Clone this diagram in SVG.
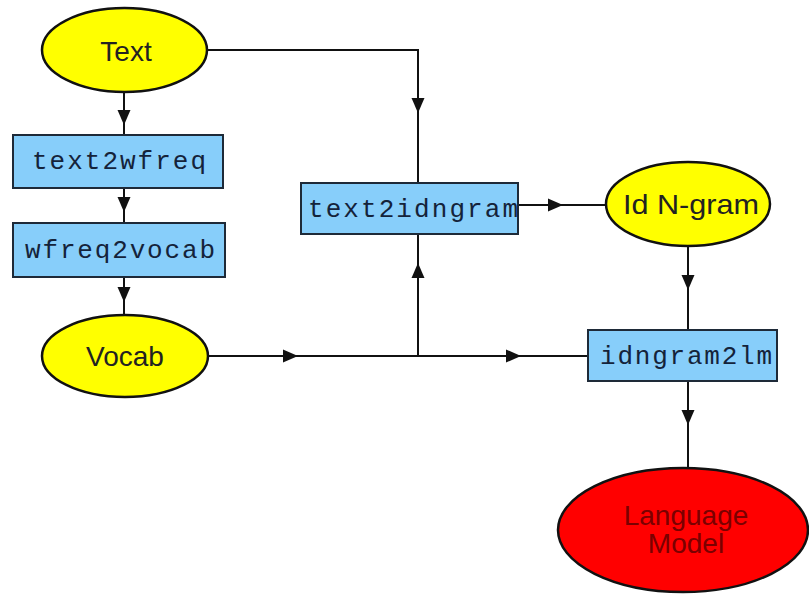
<svg xmlns="http://www.w3.org/2000/svg" width="809" height="595" viewBox="0 0 809 595">
<style>
.ell{fill:#ffff00;stroke:#111;stroke-width:2.5}
.red{fill:#ff0000;stroke:#111;stroke-width:2.5}
.box{fill:#87cefa;stroke:#1e2a38;stroke-width:2}
.lbl{font-family:"Liberation Sans",Arial,sans-serif;font-size:28px;fill:#222;text-anchor:middle}
.lm{fill:#7a0000}
.mono{font-family:"Liberation Mono","Courier New",monospace;font-size:26px;fill:#14233a;text-anchor:middle}
.con{fill:none;stroke:#111;stroke-width:2}
.ah{fill:#111}
</style>
<defs>
<polygon id="ah" class="ah" points="0,0 -15,-6.5 -15,6.5"/>
</defs>
<rect width="809" height="595" fill="#fff"/>
<g id="connectors">
<path class="con" d="M124,92 V135"/>
<use href="#ah" transform="translate(124,125) rotate(90)"/>
<path class="con" d="M124,188 V223"/>
<use href="#ah" transform="translate(124,212) rotate(90)"/>
<path class="con" d="M124,277 V315"/>
<use href="#ah" transform="translate(124,302) rotate(90)"/>
<path class="con" d="M207,50 H418 V183"/>
<use href="#ah" transform="translate(418,113) rotate(90)"/>
<path class="con" d="M208,356 H588"/>
<use href="#ah" transform="translate(298,356)"/>
<use href="#ah" transform="translate(521,356)"/>
<path class="con" d="M418,356 V234"/>
<use href="#ah" transform="translate(418,263) rotate(-90)"/>
<path class="con" d="M518,205 H607"/>
<use href="#ah" transform="translate(563,205)"/>
<path class="con" d="M688,246 V330"/>
<use href="#ah" transform="translate(688,290) rotate(90)"/>
<path class="con" d="M688,381 V468"/>
<use href="#ah" transform="translate(688,425) rotate(90)"/>
</g>
<g id="text">
<ellipse class="ell" cx="124.5" cy="50" rx="82.5" ry="42"/>
<text class="lbl" x="126" y="61">Text</text>
</g>
<g id="text2wfreq">
<rect class="box" x="13" y="135" width="210" height="53"/>
<text class="mono" x="119" y="169" textLength="174" lengthAdjust="spacing">text2wfreq</text>
</g>
<g id="wfreq2vocab">
<rect class="box" x="13" y="223" width="212" height="54"/>
<text class="mono" x="120" y="258" textLength="190" lengthAdjust="spacing">wfreq2vocab</text>
</g>
<g id="vocab">
<ellipse class="ell" cx="125" cy="356" rx="83" ry="41"/>
<text class="lbl" x="125" y="366">Vocab</text>
</g>
<g id="text2idngram">
<rect class="box" x="301" y="183" width="217" height="51"/>
<text class="mono" x="413" y="217" textLength="210" lengthAdjust="spacing">text2idngram</text>
</g>
<g id="idngram">
<ellipse class="ell" cx="688" cy="204" rx="82" ry="42"/>
<text class="lbl" x="691" y="214" textLength="136" lengthAdjust="spacingAndGlyphs">Id N-gram</text>
</g>
<g id="idngram2lm">
<rect class="box" x="588" y="330" width="189" height="51"/>
<text class="mono" x="686" y="364" textLength="172" lengthAdjust="spacing">idngram2lm</text>
</g>
<g id="languagemodel">
<ellipse class="red" cx="683" cy="530" rx="125" ry="62"/>
<text class="lbl lm" x="686" y="525">Language</text>
<text class="lbl lm" x="686" y="553">Model</text>
</g>
</svg>
